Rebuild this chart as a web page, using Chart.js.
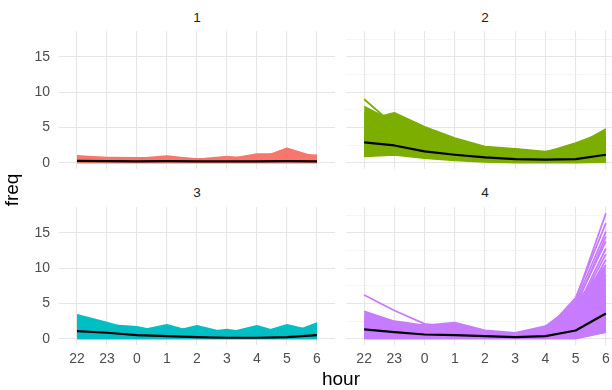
<!DOCTYPE html>
<html>
<head>
<meta charset="utf-8">
<script src="https://cdn.jsdelivr.net/npm/chart.js@4.4.1/dist/chart.umd.min.js"></script>
<style>
  html, body { margin: 0; padding: 0; background: #ffffff; }
  body { width: 612px; height: 390px; overflow: hidden; position: relative; font-family: "Liberation Sans", Arial, sans-serif; }
  canvas { position: absolute; }
  .strip { position: absolute; width: 40px; text-align: center; font-size: 13.5px; line-height: 14px; color: #1a1a1a; }
  .title { position: absolute; text-align: center; font-size: 19px; line-height: 20px; color: #000; }
</style>
</head>
<body>
<canvas id="c1" width="335" height="138" style="left:0px;top:31px;"></canvas>
<canvas id="c2" width="278" height="138" style="left:346px;top:31px;"></canvas>
<canvas id="c3" width="335" height="162" style="left:0px;top:207px;"></canvas>
<canvas id="c4" width="278" height="162" style="left:346px;top:207px;"></canvas>

<div class="strip" style="left:177px;top:10.5px;">1</div>
<div class="strip" style="left:465px;top:10.5px;">2</div>
<div class="strip" style="left:177px;top:186px;">3</div>
<div class="strip" style="left:465px;top:186px;">4</div>
<div class="title" style="left:301px;top:368.5px;width:80px;">hour</div>
<div class="title" style="left:-17.7px;top:180px;width:60px;height:20px;transform:rotate(-90deg);">freq</div>

<script>
// ---- tick labels ----
const hours = ['22', '23', '0', '1', '2', '3', '4', '5', '6'];
const yMajor = [0, 5, 10, 15];
const yMinor = [2.5, 7.5, 12.5, 17.5];

// ---- panel 1 (cluster 1) ----
const p1Mean = [0.25, 0.22, 0.2, 0.22, 0.18, 0.2, 0.2, 0.22, 0.2];
const p1Low  = [0, 0, 0, 0, 0, 0, 0, 0, 0];
const p1A = [1.0, 0.7, 0.6, 0.95, 0.5, 0.9, 0.5, 2.05, 0.75];
const p1B = [0.8, 0.75, 0.7, 0.7, 0.55, 0.5, 1.25, 1.25, 1.05];
const p1C = [0.6, 0.55, 0.5, 0.6, 0.45, 0.65, 0.9, 1.1, 0.9];

// ---- panel 2 (cluster 2) ----
const p2Mean = [2.9, 2.45, 1.6, 1.13, 0.75, 0.52, 0.43, 0.5, 1.13];
const p2Low  = [0.9, 1.1, 0.65, 0.33, 0.1, 0, 0, 0, 0.05];
const p2A = [9.0, 5.3, 4.4, 3.1, 2.0, 1.7, 1.3, 2.2, 3.6];
const p2B = [8.0, 5.8, 4.7, 3.3, 2.1, 1.8, 1.4, 2.5, 4.2];
const p2C = [6.0, 7.1, 5.1, 3.5, 2.3, 2.0, 1.6, 2.4, 4.8];
const p2D = [7.0, 6.0, 4.9, 3.4, 2.2, 1.9, 1.5, 2.8, 4.4];
const p2E = [5.0, 4.6, 3.8, 2.8, 1.8, 1.5, 1.2, 2.0, 3.3];

// ---- panel 3 (cluster 3) ----
const p3Mean = [1.08, 0.85, 0.52, 0.37, 0.23, 0.14, 0.14, 0.23, 0.5];
const p3Low  = [0, 0, 0, 0, 0, 0, 0, 0, 0];
const p3A = [3.4, 2.3, 1.1, 2.0, 0.8, 1.3, 0.7, 2.0, 1.0];
const p3B = [2.8, 2.0, 1.7, 0.8, 1.85, 0.8, 1.85, 0.6, 2.25];
const p3C = [2.0, 1.5, 1.2, 1.2, 1.0, 0.9, 1.0, 1.1, 1.4];

// ---- panel 4 (cluster 4) ----
const p4Mean = [1.32, 0.94, 0.6, 0.52, 0.37, 0.23, 0.37, 1.17, 3.58];
const p4Low  = [0, 0, 0, 0, 0, 0, 0, 0, 0.9];
const p4A = [6.2, 4.0, 2.1, 1.6, 1.0, 0.7, 1.2, 4.0, 9.0];
const p4B = [2.5, 1.8, 1.6, 1.5, 0.9, 0.6, 1.0, 5.5, 17.8];
const p4J = [2.2, 1.6, 1.4, 1.3, 0.8, 0.6, 1.1, 5.8, 16.4];
const p4C = [3.0, 2.0, 1.5, 2.0, 1.0, 0.7, 1.2, 5.2, 15.2];
const p4K = [2.4, 1.7, 1.5, 1.4, 0.9, 0.6, 1.0, 4.5, 14.5];
const p4D = [2.5, 1.8, 1.6, 1.5, 0.9, 0.6, 1.0, 4.8, 13.8];
const p4L = [2.1, 1.5, 1.3, 1.2, 0.8, 0.5, 0.9, 4.0, 12.8];
const p4I = [2.0, 1.5, 1.2, 1.2, 0.8, 0.5, 0.8, 3.8, 12.0];
const p4M = [1.8, 1.4, 1.2, 1.1, 0.7, 0.5, 0.8, 3.5, 11.2];
const p4E = [3.9, 2.5, 1.9, 2.3, 1.2, 0.85, 1.8, 5.0, 10.5];
const p4F = [3.0, 2.0, 2.0, 1.5, 1.0, 0.7, 1.3, 4.2, 8.5];
const p4G = [2.0, 1.5, 1.2, 1.2, 0.8, 0.5, 0.8, 2.5, 6.0];
const p4H = [1.5, 1.0, 0.8, 0.7, 0.5, 0.3, 0.4, 1.0, 4.1];

const colors = ['#F8766D', '#7CAE00', '#00BFC4', '#C77CFF'];
const GRID_MAJOR = '#e6e6e6';
const GRID_MINOR = '#f1f1f1';
const tickFont = { family: '"Liberation Sans", Arial, sans-serif', size: 14 };

function pts(arr) { return arr.map((v, i) => ({ x: i, y: v })); }

function buildDatasets(color, mean, low, filled, unfilled) {
  const ds = [];
  ds.push({ data: pts(mean), borderColor: '#000000', borderWidth: 2.2, fill: false, pointRadius: 0, order: 0 });
  ds.push({ data: pts(low), borderColor: color, borderWidth: 1.5, fill: false, pointRadius: 0, order: 1 });
  filled.forEach(a => ds.push({ data: pts(a), borderColor: color, backgroundColor: color, borderWidth: 1.5, fill: 1, pointRadius: 0, order: 1 }));
  unfilled.forEach(a => ds.push({ data: pts(a), borderColor: color, borderWidth: 1.8, fill: false, pointRadius: 0, order: 1 }));
  return ds;
}

function makeChart(id, datasets, showYLabels, showXLabels, yW, xH) {
  new Chart(document.getElementById(id), {
    type: 'line',
    data: { datasets },
    options: {
      responsive: false,
      animation: false,
      events: [],
      layout: { padding: 0 },
      plugins: { legend: { display: false }, tooltip: { enabled: false } },
      elements: { line: { tension: 0, borderJoinStyle: 'round', borderCapStyle: 'butt' } },
      scales: {
        x: {
          type: 'linear', min: -0.6, max: 8.6,
          border: { display: false },
          grid: { color: GRID_MAJOR, lineWidth: 1.1, drawTicks: false },
          afterBuildTicks: s => { s.ticks = hours.map((h, i) => ({ value: i })); },
          ticks: { display: showXLabels, padding: 6, color: '#4d4d4d', font: tickFont, maxRotation: 0, autoSkip: false,
                   callback: v => hours[v] },
          afterFit: s => { s.height = xH; s.paddingLeft = 0; s.paddingRight = 0; s.paddingTop = 0; s.paddingBottom = 0; }
        },
        y: {
          type: 'linear', min: -0.89, max: 18.69,
          border: { display: false },
          grid: {
            drawTicks: false,
            color: c => (yMajor.includes(c.tick.value) ? GRID_MAJOR : GRID_MINOR),
            lineWidth: c => (yMajor.includes(c.tick.value) ? 1.1 : 0.7)
          },
          afterBuildTicks: s => { s.ticks = yMajor.concat(yMinor).sort((a, b) => a - b).map(v => ({ value: v })); },
          ticks: { display: showYLabels, padding: 9, color: '#4d4d4d', font: tickFont,
                   callback: v => (yMajor.includes(v) ? String(v) : '') },
          afterFit: s => { s.width = yW; s.paddingLeft = 0; s.paddingRight = 0; s.paddingTop = 0; s.paddingBottom = 0; }
        }
      }
    }
  });
}

makeChart('c1', buildDatasets(colors[0], p1Mean, p1Low, [p1A, p1B, p1C], []), true, false, 59, 0);
makeChart('c2', buildDatasets(colors[1], p2Mean, p2Low, [p2B, p2C, p2D, p2E], [p2A]), false, false, 0, 0);
makeChart('c3', buildDatasets(colors[2], p3Mean, p3Low, [p3A, p3B, p3C], []), true, true, 59, 24);
makeChart('c4', buildDatasets(colors[3], p4Mean, p4Low, [p4E, p4F, p4G, p4H], [p4A, p4B, p4J, p4C, p4K, p4D, p4L, p4I, p4M]), false, true, 0, 24);
</script>
</body>
</html>
